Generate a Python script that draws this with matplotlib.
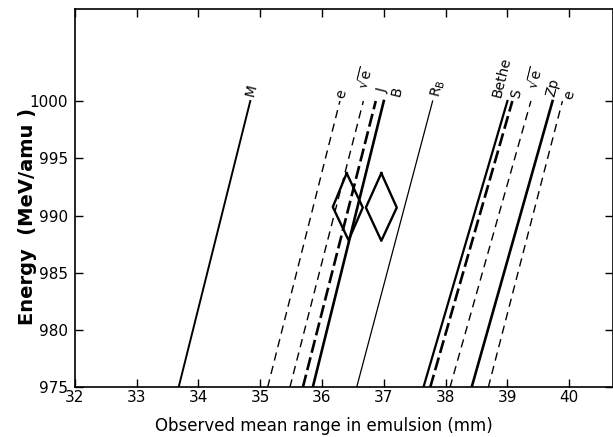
import matplotlib
matplotlib.use('Agg')
import matplotlib.pyplot as plt

plt.rcParams['font.family'] = ['DejaVu Sans']
plt.rcParams['mathtext.fontset'] = 'dejavusans'

# range-energy curves: range (mm) at 975 and at 1000 MeV/amu
names = ['M', 'e', r'$\sqrt{\mathregular{e}}$', 'J', 'B', r'$\mathregular{R_B}$',
         'Bethe', 'S', r'$\sqrt{\mathregular{e}}$', 'Zp', 'e']
range_975 = [33.68, 35.12, 35.48, 35.69, 35.85, 36.56,
             37.64, 37.75, 38.07, 38.42, 38.69]
range_1000 = [34.84, 36.29, 36.67, 36.87, 37.00, 37.79,
              39.00, 39.08, 39.38, 39.73, 39.89]
energy_ends = [975, 1000]

# two measured points (diamonds)
diamond1_x = [36.40, 36.66, 36.43, 36.175, 36.40]
diamond1_y = [993.7, 990.7, 987.85, 990.75, 993.7]
diamond2_x = [36.96, 37.21, 36.96, 36.71, 36.96]
diamond2_y = [993.7, 990.7, 987.8, 990.7, 993.7]

xticks = [32, 33, 34, 35, 36, 37, 38, 39, 40]
yticks = [975, 980, 985, 990, 995, 1000]

# line styles per curve
thin_dash = (0, (6, 4))
long_dash = (0, (5, 1.8))
styles = [('-', 1.4), (thin_dash, 1.0), (thin_dash, 1.0), (long_dash, 1.9),
          ('-', 1.9), ('-', 0.9), ('-', 1.6), (long_dash, 1.9),
          (thin_dash, 1.0), ('-', 1.9), (thin_dash, 1.0)]
# where each label sits (centre of text)
label_pos = [(34.86, 1000.9), (36.32, 1000.6), (36.70, 1002.0), (36.97, 1000.9),
             (37.21, 1000.8), (37.88, 1001.1), (38.91, 1002.1), (39.15, 1000.65),
             (39.45, 1002.0), (39.74, 1001.2), (40.01, 1000.5)]

fig = plt.figure(figsize=(6.13, 4.37), dpi=100)
ax = fig.add_axes([0.1219, 0.1133, 0.8773, 0.8654])

for i in range(len(names)):
    ls, lw = styles[i]
    ax.plot([range_975[i], range_1000[i]], energy_ends, color='black',
            linestyle=ls, linewidth=lw)
    ax.text(label_pos[i][0], label_pos[i][1], names[i], rotation=76,
            ha='center', va='center', fontsize=10)

ax.plot(diamond1_x, diamond1_y, color='black', linewidth=1.7)
ax.plot(diamond2_x, diamond2_y, color='black', linewidth=1.7)

ax.set_xlim(32, 40.70)
ax.set_ylim(975, 1008)
ax.set_xticks(xticks)
ax.set_yticks(yticks)
ax.tick_params(direction='in', top=True, right=True, length=6, width=1,
               labelsize=11)
ax.tick_params(axis='x', pad=2)
ax.tick_params(axis='y', pad=5)
for s in ax.spines.values():
    s.set_linewidth(1.2)

ax.set_xlabel('Observed mean range in emulsion (mm)', fontsize=12)
ax.set_ylabel('Energy  (MeV/amu )', fontsize=14, fontweight='bold')
ax.xaxis.set_label_coords(0.4636, -0.078)
ax.yaxis.set_label_coords(-0.071, 0.452)

fig.savefig('out.png', dpi=100)
